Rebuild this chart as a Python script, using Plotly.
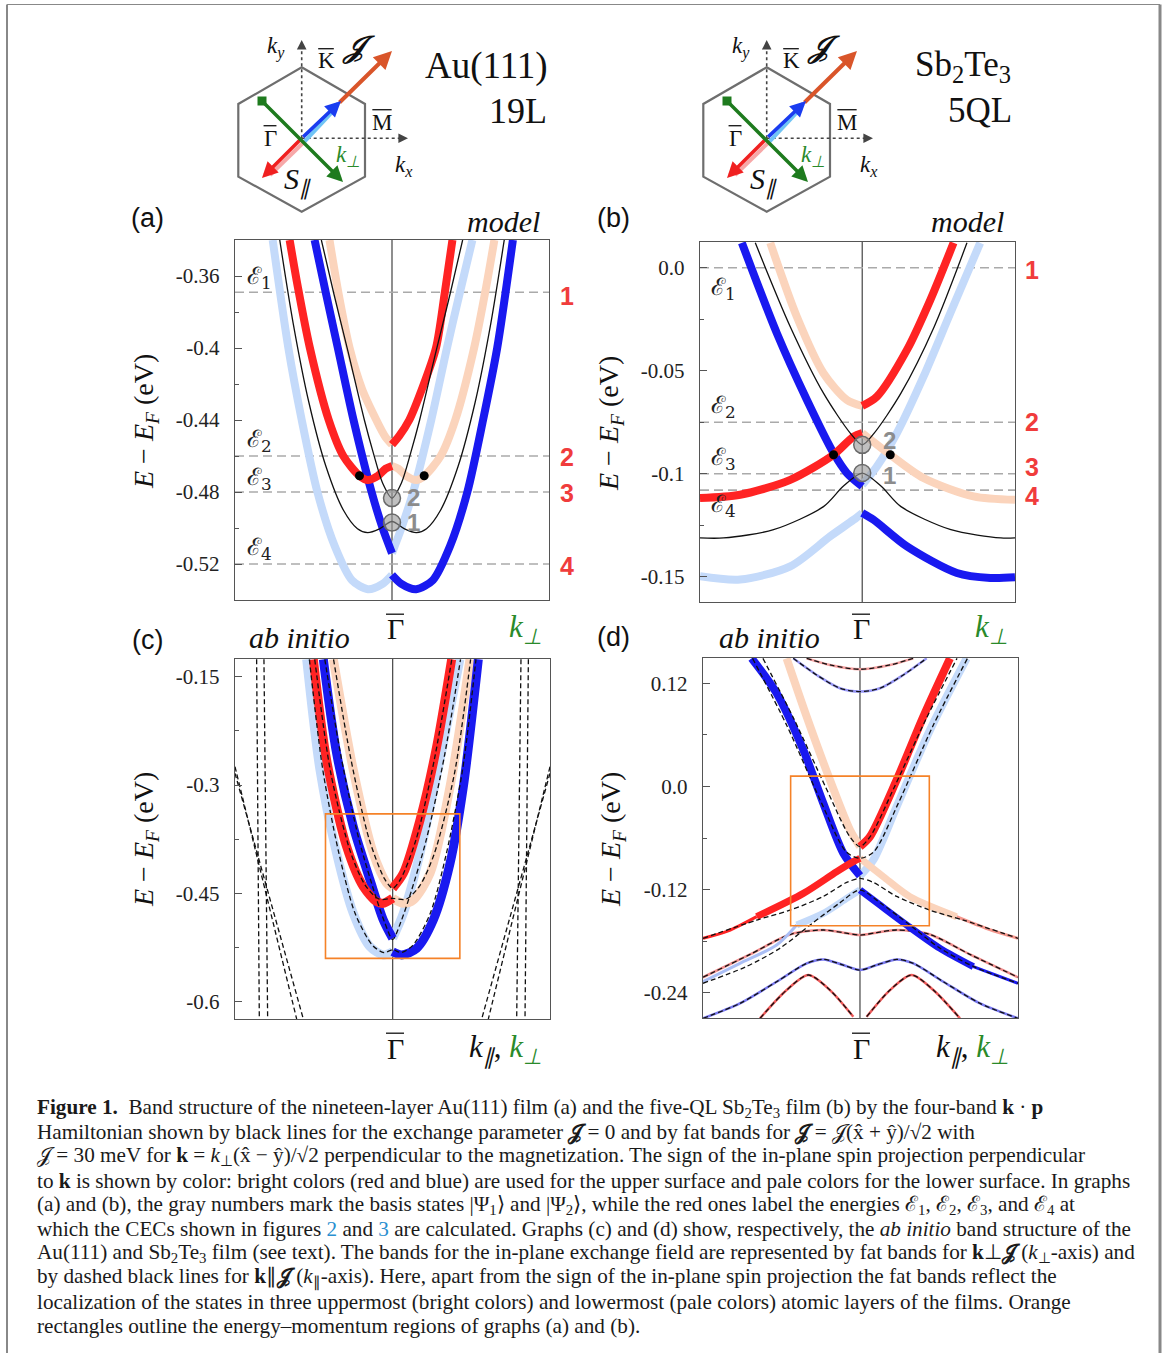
import plotly.graph_objects as go

W, H = 1165, 1353

# ---------------- colours ----------------
RED = "rgb(255,35,35)"
BLUE = "rgb(25,25,240)"
PALEBLUE = "rgb(196,218,250)"
PALEOR = "rgb(251,212,188)"
BLACK = "#111111"
FRAME = "#555555"
GREEN = "#2a8a2a"
ORANGE = "rgb(245,130,40)"

# ================= DATA =================
# ---- panel (a): Au(111) 19L, model ----
a_yticks = [-0.52, -0.48, -0.44, -0.40, -0.36]
a_yticktext = ["-0.52", "-0.48", "-0.44", "-0.4", "-0.36"]
a_yminor = [-0.54, -0.50, -0.46, -0.42, -0.38, -0.34]
a_levels = [-0.369, -0.460, -0.480, -0.520]

a_k_A_pale = [-0.76, -0.66, -0.575, -0.475, -0.365, -0.255, -0.154, -0.06, 0.0]
a_E_A_pale = [-0.340, -0.400, -0.440, -0.480, -0.510, -0.529, -0.534, -0.531, -0.526]
a_k_A_blue = [0.0, 0.06, 0.154, 0.26, 0.37, 0.48, 0.58, 0.67, 0.77]
a_E_A_blue = [-0.526, -0.531, -0.534, -0.529, -0.510, -0.480, -0.440, -0.400, -0.340]

a_k_B_blue = [-0.493, -0.42, -0.345, -0.245, -0.13, -0.06, 0.0]
a_E_B_blue = [-0.340, -0.370, -0.400, -0.440, -0.480, -0.500, -0.514]
a_k_B_pale = [0.0, 0.06, 0.135, 0.25, 0.35, 0.43, 0.512]
a_E_B_pale = [-0.514, -0.500, -0.480, -0.440, -0.400, -0.370, -0.340]

a_k_C_red = [-0.652, -0.60, -0.523, -0.403, -0.31, -0.207, -0.154, -0.09, -0.04, 0.0]
a_E_C_red = [-0.340, -0.366, -0.400, -0.440, -0.460, -0.471, -0.4733, -0.471, -0.467, -0.4655]
a_k_C_pale = [0.0, 0.04, 0.09, 0.154, 0.207, 0.31, 0.403, 0.523, 0.60, 0.652]
a_E_C_pale = [-0.4655, -0.467, -0.471, -0.4733, -0.471, -0.460, -0.440, -0.400, -0.366, -0.340]

a_k_D_pale = [-0.398, -0.34, -0.27, -0.19, -0.10, -0.045, 0.0]
a_E_D_pale = [-0.340, -0.370, -0.400, -0.423, -0.440, -0.449, -0.4537]
a_k_D_red = [0.0, 0.045, 0.11, 0.19, 0.28, 0.335, 0.385]
a_E_D_red = [-0.4537, -0.449, -0.440, -0.423, -0.400, -0.370, -0.340]

a_k_black_outer = [-0.715, -0.63, -0.53, -0.42, -0.31, -0.22, -0.155, -0.08, 0.0,
                   0.08, 0.155, 0.22, 0.31, 0.42, 0.53, 0.63, 0.715]
a_E_black_outer = [-0.340, -0.386, -0.430, -0.466, -0.490, -0.5004, -0.5026, -0.5005, -0.4964,
                   -0.5005, -0.5026, -0.5004, -0.490, -0.466, -0.430, -0.386, -0.340]
a_k_black_inner = [-0.45, -0.37, -0.28, -0.176, -0.12, -0.06, 0.0, 0.06, 0.12, 0.176, 0.28, 0.37, 0.45]
a_E_black_inner = [-0.340, -0.370, -0.402, -0.440, -0.458, -0.475, -0.4834,
                   -0.475, -0.458, -0.440, -0.402, -0.370, -0.340]
a_k_dots = [-0.207, 0.205]
a_E_dots = [-0.471, -0.471]
a_k_basis = [0.0, 0.0]
a_E_basis = [-0.4834, -0.497]

# ---- panel (b): Sb2Te3 5QL, model ----
b_yticks = [-0.15, -0.10, -0.05, 0.0]
b_yticktext = ["-0.15", "-0.1", "-0.05", "0.0"]
b_yminor = [-0.125, -0.075, -0.025]
b_levels = [0.0, -0.075, -0.100, -0.108]

b_k_up_blue = [-0.764, -0.542, -0.351, -0.182, -0.097, 0.0]
b_E_up_blue = [0.0121, -0.0318, -0.0642, -0.0900, -0.0997, -0.1062]
b_k_up_pale = [0.0, 0.093, 0.22, 0.389, 0.559, 0.749]
b_E_up_pale = [-0.1054, -0.0965, -0.0803, -0.0529, -0.0221, 0.0121]
b_k_top_pale = [-0.584, -0.415, -0.246, -0.097, 0.0]
b_E_top_pale = [0.0121, -0.0238, -0.0512, -0.0642, -0.0671]
b_k_top_red = [0.0, 0.093, 0.284, 0.432, 0.58]
b_E_top_red = [-0.0671, -0.0626, -0.0399, -0.0157, 0.0121]
b_k_mid_red = [-1.03, -0.775, -0.457, -0.182, -0.055, 0.0]
b_E_mid_red = [-0.1118, -0.1102, -0.1030, -0.0908, -0.0820, -0.0803]
b_k_mid_pale = [0.0, 0.178, 0.389, 0.707, 0.97]
b_E_mid_pale = [-0.0803, -0.0908, -0.1021, -0.1110, -0.1127]
b_k_low_pale = [-1.03, -0.775, -0.457, -0.203, -0.055, 0.0]
b_E_low_pale = [-0.1498, -0.1514, -0.1450, -0.1304, -0.1224, -0.1191]
b_k_low_blue = [0.0, 0.072, 0.284, 0.601, 0.813, 0.97]
b_E_low_blue = [-0.1191, -0.1224, -0.1353, -0.1482, -0.1506, -0.1503]
b_k_black_up = [-0.679, -0.457, -0.246, -0.076, 0.0, 0.076, 0.246, 0.457, 0.665]
b_E_black_up = [0.0121, -0.0286, -0.0609, -0.0803, -0.0860, -0.0803, -0.0609, -0.0286, 0.0121]
b_k_black_lo = [-1.03, -0.88, -0.563, -0.246, -0.119, 0.0, 0.119, 0.246, 0.563, 0.88, 0.97]
b_E_black_lo = [-0.1312, -0.1312, -0.1272, -0.1160, -0.1060, -0.0997,
                -0.1060, -0.1160, -0.1272, -0.1312, -0.1312]
b_k_dots = [-0.182, 0.178]
b_E_dots = [-0.0908, -0.0908]
b_k_basis = [0.0, 0.0]
b_E_basis = [-0.086, -0.0997]

# ---- panel (c): Au(111) ab initio ----
c_yticks = [-0.6, -0.45, -0.3, -0.15]
c_yticktext = ["-0.6", "-0.45", "-0.3", "-0.15"]
c_yminor = [-0.525, -0.375, -0.225]
c_region_k = [-1.0, 1.0]
c_region_E = [-0.54, -0.34]

c_k_pb1 = [-1.28, -1.082, -0.834, -0.586, -0.337, -0.139, 0.0]
c_E_pb1 = [-0.126, -0.279, -0.3946, -0.4776, -0.5238, -0.5353, -0.5307]
c_k_b1 = [0.0, 0.134, 0.357, 0.605, 0.854, 1.052, 1.275]
c_E_b1 = [-0.5307, -0.5353, -0.5261, -0.4869, -0.4084, -0.3023, -0.126]
c_k_b2 = [-1.032, -0.834, -0.586, -0.337, -0.139, 0.0]
c_E_b2 = [-0.126, -0.2561, -0.3577, -0.4315, -0.4869, -0.5123]
c_k_pb2 = [0.0, 0.159, 0.407, 0.705, 1.0]
c_E_pb2 = [-0.5123, -0.4776, -0.3946, -0.2654, -0.126]
c_k_r1 = [-1.181, -0.983, -0.685, -0.437, -0.238, -0.139, 0.0]
c_E_r1 = [-0.126, -0.2654, -0.3853, -0.4407, -0.4615, -0.4638, -0.4569]
c_k_po1 = [0.0, 0.159, 0.308, 0.556, 0.854, 1.151]
c_E_po1 = [-0.4569, -0.4638, -0.4592, -0.4223, -0.3023, -0.126]
c_k_po2 = [-0.883, -0.586, -0.288, -0.089, 0.0]
c_E_po2 = [-0.126, -0.2792, -0.3946, -0.4361, -0.443]
c_k_r2 = [0.0, 0.159, 0.407, 0.655, 0.878]
c_E_r2 = [-0.443, -0.4223, -0.3484, -0.2469, -0.126]

c_k_d1 = [-0.88, -0.62, -0.35, -0.12, 0.0, 0.12, 0.35, 0.62, 0.88]
c_E_d1 = [-0.126, -0.265, -0.375, -0.430, -0.443, -0.430, -0.375, -0.265, -0.126]
c_k_d2 = [-1.16, -0.92, -0.62, -0.40, -0.20, 0.0, 0.20, 0.40, 0.62, 0.92, 1.16]
c_E_d2 = [-0.126, -0.284, -0.395, -0.440, -0.458, -0.457, -0.458, -0.440, -0.395, -0.284, -0.126]
c_k_d3 = [-1.01, -0.77, -0.50, -0.25, -0.12, 0.0, 0.12, 0.25, 0.50, 0.77, 1.01]
c_E_d3 = [-0.126, -0.260, -0.376, -0.455, -0.490, -0.514, -0.490, -0.455, -0.376, -0.260, -0.126]
c_k_d4 = [-1.24, -1.04, -0.80, -0.56, -0.30, -0.13, 0.0, 0.13, 0.30, 0.56, 0.80, 1.04, 1.24]
c_E_d4 = [-0.126, -0.279, -0.3946, -0.4776, -0.522, -0.532, -0.528,
          -0.532, -0.522, -0.4776, -0.3946, -0.279, -0.126]
c_outer_k = [[-2.025, -1.985], [-1.916, -1.861], [-2.347, -1.429], [-2.347, -1.33],
             [2.02, 1.97], [1.91, 1.846], [2.342, 1.424], [2.342, 1.325]]
c_outer_E = [[-0.126, -0.624], [-0.126, -0.624], [-0.2746, -0.624], [-0.2838, -0.624],
             [-0.126, -0.624], [-0.126, -0.624], [-0.2746, -0.624], [-0.2838, -0.624]]

# ---- panel (d): Sb2Te3 ab initio ----
d_yticks = [-0.24, -0.12, 0.0, 0.12]
d_yticktext = ["-0.24", "-0.12", "0.0", "0.12"]
d_yminor = [-0.18, -0.06, 0.06]
d_region_k = [-1.0, 1.0]
d_region_E = [-0.162, 0.012]

d_k_up_blue = [-1.5625, -1.202, -0.817, -0.529, -0.240, 0.0]
d_E_up_blue = [0.149, 0.1084, 0.0424, -0.0196, -0.0778, -0.104]
d_k_up_paleblue = [0.0, 0.192, 0.529, 1.01, 1.538]
d_E_up_paleblue = [-0.104, -0.0856, -0.0235, 0.0657, 0.149]
d_k_up_paleor = [-1.058, -0.769, -0.433, -0.144, 0.0]
d_E_up_paleor = [0.149, 0.0812, 0.0075, -0.0507, -0.070]
d_k_up_red = [0.0, 0.144, 0.529, 0.913, 1.298]
d_E_up_red = [-0.070, -0.0584, 0.0075, 0.0812, 0.149]
d_k_lo_red = [-1.49, -0.817, -0.337, -0.096, 0.0]
d_E_lo_red = [-0.1515, -0.1244, -0.0992, -0.0875, -0.0836]
d_k_lo_red_thin = [-2.264, -1.9, -1.49]
d_E_lo_red_thin = [-0.1767, -0.168, -0.1515]
d_k_lo_paleor = [0.0, 0.337, 0.721, 1.394]
d_E_lo_paleor = [-0.0836, -0.105, -0.1283, -0.1515]
d_k_lo_paleor_thin = [1.394, 1.85, 2.279]
d_E_lo_paleor_thin = [-0.1515, -0.166, -0.1767]
d_k_lo_paleblue = [-0.913, -0.529, -0.192, 0.0]
d_E_lo_paleblue = [-0.1612, -0.1477, -0.1302, -0.1205]
d_k_lo_paleblue_thin = [-2.264, -1.731, -1.202, -0.913]
d_E_lo_paleblue_thin = [-0.2272, -0.2058, -0.1845, -0.1612]
d_k_lo_blue = [0.0, 0.288, 0.673, 1.154, 1.635]
d_E_lo_blue = [-0.1205, -0.138, -0.1612, -0.1884, -0.2097]
d_k_lo_blue_thin = [1.635, 2.279]
d_E_lo_blue_thin = [-0.2097, -0.229]

d_k_dd1 = [-1.40, -0.95, -0.50, -0.15, 0.0, 0.15, 0.50, 0.95, 1.40]
d_E_dd1 = [0.149, 0.078, 0.0, -0.058, -0.070, -0.058, 0.0, 0.078, 0.149]
d_k_dd2 = [-1.55, -1.05, -0.55, -0.20, 0.0, 0.20, 0.55, 1.05, 1.55]
d_E_dd2 = [0.149, 0.070, -0.020, -0.076, -0.0836, -0.076, -0.020, 0.070, 0.149]
d_k_dd3 = [-2.264, -1.49, -1.01, -0.529, -0.20, 0.0, 0.20, 0.529, 1.01, 1.49, 2.279]
d_E_dd3 = [-0.1767, -0.1555, -0.144, -0.128, -0.112, -0.107, -0.112, -0.128, -0.144, -0.1555, -0.1767]
d_k_dd4 = [-2.264, -1.65, -1.15, -0.70, -0.30, 0.0, 0.30, 0.70, 1.15, 1.65, 2.279]
d_E_dd4 = [-0.229, -0.210, -0.188, -0.160, -0.136, -0.1205, -0.136, -0.160, -0.188, -0.210, -0.229]
d_k_hump = [-2.264, -1.6, -1.0, -0.529, -0.24, 0.0, 0.24, 0.529, 1.0, 1.6, 2.279]
d_E_hump = [-0.222, -0.196, -0.172, -0.167, -0.1701, -0.1729, -0.1701, -0.167, -0.172, -0.196, -0.222]
d_k_w = [-2.264, -1.731, -1.202, -0.769, -0.529, -0.24, 0.0, 0.24, 0.529, 0.769, 1.202, 1.731, 2.279]
d_E_w = [-0.2698, -0.2524, -0.2272, -0.2058, -0.2012, -0.2078, -0.2136,
         -0.2078, -0.2012, -0.2058, -0.2272, -0.2524, -0.2698]
d_k_peakL = [-1.442, -1.058, -0.745, -0.433, -0.096]
d_E_peakL = [-0.2698, -0.2369, -0.2194, -0.2369, -0.2679]
d_k_peakR = [0.096, 0.433, 0.745, 1.058, 1.442]
d_E_peakR = [-0.2679, -0.2369, -0.2194, -0.2369, -0.2698]
d_k_cb1 = [-0.962, -0.625, -0.288, 0.0, 0.288, 0.625, 0.962]
d_E_cb1 = [0.149, 0.1297, 0.1142, 0.1103, 0.1142, 0.1297, 0.149]
d_k_cb2 = [-0.769, -0.433, 0.0, 0.433, 0.769]
d_E_cb2 = [0.149, 0.1413, 0.1363, 0.1413, 0.149]

# ================= FIGURE =================
def PX(x):
    return x / W


def PY(y):
    return 1 - y / H


fig = go.Figure()


def line(ax, k, E, color, width, dash=None):
    fig.add_trace(go.Scatter(
        x=k, y=E, xaxis="x" + ax, yaxis="y" + ax, mode="lines",
        line=dict(color=color, width=width, dash=dash, shape="spline", smoothing=0.8),
        hoverinfo="skip", showlegend=False))


def dashed(ax, k, E):
    line(ax, k, E, BLACK, 1.3, "5px,3px")


# ---- (a) ----
line("", a_k_A_pale, a_E_A_pale, PALEBLUE, 8)
line("", a_k_B_pale, a_E_B_pale, PALEBLUE, 8)
line("", a_k_C_pale, a_E_C_pale, PALEOR, 8)
line("", a_k_D_pale, a_E_D_pale, PALEOR, 8)
line("", a_k_A_blue, a_E_A_blue, BLUE, 8)
line("", a_k_B_blue, a_E_B_blue, BLUE, 8)
line("", a_k_C_red, a_E_C_red, RED, 8)
line("", a_k_D_red, a_E_D_red, RED, 8)
line("", a_k_black_outer, a_E_black_outer, BLACK, 1.3)
line("", a_k_black_inner, a_E_black_inner, BLACK, 1.3)

# ---- (b) ----
line("2", b_k_low_pale, b_E_low_pale, PALEBLUE, 8)
line("2", b_k_up_pale, b_E_up_pale, PALEBLUE, 8)
line("2", b_k_top_pale, b_E_top_pale, PALEOR, 8)
line("2", b_k_mid_pale, b_E_mid_pale, PALEOR, 8)
line("2", b_k_up_blue, b_E_up_blue, BLUE, 8)
line("2", b_k_low_blue, b_E_low_blue, BLUE, 8)
line("2", b_k_top_red, b_E_top_red, RED, 8)
line("2", b_k_mid_red, b_E_mid_red, RED, 8)
line("2", b_k_black_up, b_E_black_up, BLACK, 1.3)
line("2", b_k_black_lo, b_E_black_lo, BLACK, 1.3)

# ---- (c) ----
for kk, ee in zip(c_outer_k, c_outer_E):
    fig.add_trace(go.Scatter(x=kk, y=ee, xaxis="x3", yaxis="y3", mode="lines",
                             line=dict(color=BLACK, width=1.3, dash="5px,3px"),
                             hoverinfo="skip", showlegend=False))
line("3", c_k_pb1, c_E_pb1, PALEBLUE, 9)
line("3", c_k_pb2, c_E_pb2, PALEBLUE, 9)
line("3", c_k_po1, c_E_po1, PALEOR, 9)
line("3", c_k_po2, c_E_po2, PALEOR, 9)
line("3", c_k_b1, c_E_b1, BLUE, 9)
line("3", c_k_b2, c_E_b2, BLUE, 9)
line("3", c_k_r1, c_E_r1, RED, 9)
line("3", c_k_r2, c_E_r2, RED, 9)
for kk, ee in [(c_k_d1, c_E_d1), (c_k_d2, c_E_d2), (c_k_d3, c_E_d3), (c_k_d4, c_E_d4)]:
    dashed("3", kk, ee)

# ---- (d) ----
for kk, ee, cc in [(d_k_cb1, d_E_cb1, "rgb(150,150,245)"), (d_k_cb2, d_E_cb2, "rgb(245,160,160)"),
                   (d_k_hump, d_E_hump, "rgb(240,140,140)"), (d_k_w, d_E_w, "rgb(120,120,240)"),
                   (d_k_peakL, d_E_peakL, "rgb(240,90,90)"), (d_k_peakR, d_E_peakR, "rgb(240,90,90)")]:
    line("4", kk, ee, cc, 2.5)
    dashed("4", kk, ee)
line("4", d_k_lo_red_thin, d_E_lo_red_thin, RED, 3)
line("4", d_k_lo_paleor_thin, d_E_lo_paleor_thin, "rgb(245,150,140)", 3)
line("4", d_k_lo_paleblue_thin, d_E_lo_paleblue_thin, "rgb(170,190,245)", 3)
line("4", d_k_lo_blue_thin, d_E_lo_blue_thin, BLUE, 3)
line("4", d_k_up_paleblue, d_E_up_paleblue, PALEBLUE, 8)
line("4", d_k_up_paleor, d_E_up_paleor, PALEOR, 8)
line("4", d_k_lo_paleor, d_E_lo_paleor, PALEOR, 7)
line("4", d_k_lo_paleblue, d_E_lo_paleblue, PALEBLUE, 7)
line("4", d_k_up_blue, d_E_up_blue, BLUE, 8)
line("4", d_k_up_red, d_E_up_red, RED, 8)
line("4", d_k_lo_red, d_E_lo_red, RED, 7)
line("4", d_k_lo_blue, d_E_lo_blue, BLUE, 7)
for kk, ee in [(d_k_dd1, d_E_dd1), (d_k_dd2, d_E_dd2), (d_k_dd3, d_E_dd3), (d_k_dd4, d_E_dd4)]:
    dashed("4", kk, ee)

# markers: crossing dots and basis-state circles
for ax, kd, ed, kb, eb in [("", a_k_dots, a_E_dots, a_k_basis, a_E_basis),
                           ("2", b_k_dots, b_E_dots, b_k_basis, b_E_basis)]:
    fig.add_trace(go.Scatter(x=kb, y=eb, xaxis="x" + ax, yaxis="y" + ax, mode="markers",
                             marker=dict(size=17, color="rgba(150,150,150,0.6)",
                                         line=dict(color="#6a6a6a", width=1.5)),
                             hoverinfo="skip", showlegend=False))
    fig.add_trace(go.Scatter(x=kd, y=ed, xaxis="x" + ax, yaxis="y" + ax, mode="markers",
                             marker=dict(size=9, color="black"), hoverinfo="skip", showlegend=False))

# ---- axes ----
panels = [
    ("", (235, 549), (240, 600), [-1, 1], [-0.54, -0.34], a_yticks, a_yticktext, a_yminor),
    ("2", (700, 1015), (242, 602), [-1.03, 0.97], [-0.1623, 0.0125], b_yticks, b_yticktext, b_yminor),
    ("3", (235, 550), (659, 1019), [-2.347, 2.342], [-0.624, -0.1255], c_yticks, c_yticktext, c_yminor),
    ("4", (703, 1018), (658, 1018), [-2.264, 2.279], [-0.2694, 0.1494], d_yticks, d_yticktext, d_yminor),
]
shapes = []
for s, (x0, x1), (y0, y1), xr, yr, tv, tt, mv in panels:
    fig.layout["xaxis" + s] = dict(domain=[PX(x0), PX(x1)], range=xr, showline=True, mirror=True,
                                   linecolor=FRAME, linewidth=1.3, showticklabels=False, ticks="",
                                   showgrid=False, zeroline=False, anchor="y" + s, fixedrange=True)
    fig.layout["yaxis" + s] = dict(domain=[PY(y1), PY(y0)], range=yr, showline=True, mirror=True,
                                   linecolor=FRAME, linewidth=1.3, ticks="inside", ticklen=7,
                                   tickcolor=FRAME, tickvals=tv, ticktext=tt,
                                   tickfont=dict(family="Liberation Serif", size=21, color="#222"),
                                   ticklabelstandoff=10,
                                   minor=dict(ticks="inside", ticklen=4, tickcolor=FRAME, tickvals=mv),
                                   showgrid=False, zeroline=False, anchor="x" + s, fixedrange=True)
    shapes.append(dict(type="line", xref="x" + s, yref="y" + s + " domain", x0=0, x1=0, y0=0, y1=1,
                       line=dict(color="#444", width=1.2), layer="below"))

for lev in a_levels:
    shapes.append(dict(type="line", xref="x domain", yref="y", x0=0, x1=1, y0=lev, y1=lev,
                       line=dict(color="#aaaaaa", width=1.6, dash="9px,5px"), layer="below"))
for lev in b_levels:
    shapes.append(dict(type="line", xref="x2 domain", yref="y2", x0=0, x1=1, y0=lev, y1=lev,
                       line=dict(color="#aaaaaa", width=1.6, dash="9px,5px"), layer="below"))
shapes.append(dict(type="rect", xref="x3", yref="y3", x0=c_region_k[0], x1=c_region_k[1],
                   y0=c_region_E[0], y1=c_region_E[1], line=dict(color=ORANGE, width=1.6)))
shapes.append(dict(type="rect", xref="x4", yref="y4", x0=d_region_k[0], x1=d_region_k[1],
                   y0=d_region_E[0], y1=d_region_E[1], line=dict(color=ORANGE, width=1.6)))


def seg(x0, y0, x1, y1, color, width, dash=None):
    shapes.append(dict(type="line", xref="paper", yref="paper", x0=PX(x0), y0=PY(y0), x1=PX(x1), y1=PY(y1),
                       line=dict(color=color, width=width, dash=dash)))


# page frame
seg(7, 4.5, 7, 1353, "#888888", 2)
seg(7, 4.5, 1160, 4.5, "#888888", 1)
seg(1160, 4.5, 1160, 1353, "#888888", 3)


def arrow(x0, y0, x1, y1, color, width, size=1.0):
    fig.add_annotation(x=PX(x1), y=PY(y1), xref="paper", yref="paper", ax=x0 - x1, ay=y0 - y1,
                       axref="pixel", ayref="pixel", showarrow=True, arrowhead=2, arrowsize=size,
                       arrowwidth=width, arrowcolor=color, text="")


def txt(x, y, s, size, color="#111", family="Liberation Serif", xa="center", ya="middle", angle=0):
    fig.add_annotation(x=PX(x), y=PY(y), xref="paper", yref="paper", text=s, showarrow=False,
                       font=dict(size=size, color=color, family=family), xanchor=xa, yanchor=ya,
                       textangle=angle)


def bar_txt(x, y, s, size, half):
    """letter with an overline bar (drawn as a short line)."""
    txt(x, y, s, size)
    yb = y - 0.36 * size - 4
    seg(x - half * size, yb, x + half * size, yb, "#111", 1.3)


for dx in (0, 465):
    gx, gy = 301.7 + dx, 138.3
    hexpts = [(301.7, 67.3), (365, 104), (365, 176.7), (301.7, 211.7), (238.3, 176.7), (238.3, 104)]
    path = "M " + " L ".join(f"{PX(x + dx)},{PY(y)}" for x, y in hexpts) + " Z"
    shapes.append(dict(type="path", xref="paper", yref="paper", path=path,
                       line=dict(color="#6e6e6e", width=2.2)))
    seg(gx, gy, gx, 47, "#444", 1.6, "dot")
    arrow(gx, 50, gx, 40, "#444", 1.6, 1.2)
    seg(gx, gy, 400 + dx, gy, "#444", 1.6, "dot")
    arrow(398 + dx, gy, 408 + dx, gy, "#444", 1.6, 1.2)
    seg(gx + 3, gy + 3, 336 + dx, 108, "#70c4f5", 4)
    arrow(338 + dx, 104, 392 + dx, 51, "#d9552a", 4, 0.9)
    arrow(gx, gy, 341 + dx, 101, "#1a3cf0", 3.5, 0.9)
    seg(gx + 2, gy + 4, 270 + dx, 175, "#f7a8a8", 4)
    arrow(gx, gy, 262 + dx, 178, "#f02020", 3.5, 0.9)
    arrow(262 + dx, 101, 343 + dx, 182, "#1e7b1e", 3.5, 0.9)
    shapes.append(dict(type="rect", xref="paper", yref="paper", x0=PX(257.5 + dx), x1=PX(266.5 + dx),
                       y0=PY(105.5), y1=PY(96.5), fillcolor="#1e7b1e", line=dict(width=0)))
    txt(276 + dx, 47, "<i>k<sub>y</sub></i>", 23)
    bar_txt(326 + dx, 61, "K", 23, 0.34)
    txt(358 + dx, 47, "<b><i>\U0001D4A5</i></b>", 30)
    bar_txt(382 + dx, 122, "M", 23, 0.42)
    bar_txt(270 + dx, 138, "\u0393", 23, 0.28)
    txt(348 + dx, 156, "<i>k<sub>\u22a5</sub></i>", 23, GREEN)
    txt(298 + dx, 181, "<i>S<sub>\u2225</sub></i>", 30)
    txt(404 + dx, 166, "<i>k<sub>x</sub></i>", 23)

txt(486, 66, "Au(111)", 37)
txt(518, 111, "19L", 36)
txt(963, 66, "Sb<sub>2</sub>Te<sub>3</sub>", 35)
txt(980, 111, "5QL", 35)

# ---- panel annotations ----
for x, y, s in [(147, 218, "(a)"), (613, 218, "(b)"), (147, 640, "(c)"), (613, 637, "(d)")]:
    txt(x, y, s, 27, "#111", "Liberation Sans")
txt(503, 221, "<i>model</i>", 30)
txt(967, 221, "<i>model</i>", 30)
txt(299, 637, "<i>ab initio</i>", 30)
txt(769, 637, "<i>ab initio</i>", 30)
for x, y in [(395, 629), (861, 629), (395, 1048), (861, 1048)]:
    bar_txt(x, y, "\u0393", 30, 0.3)
txt(525, 629, "<i>k<sub>\u22a5</sub></i>", 31, GREEN)
txt(991, 629, "<i>k<sub>\u22a5</sub></i>", 31, GREEN)
txt(505, 1049, "<i>k<sub>\u2225</sub></i>, <span style='color:%s'><i>k<sub>\u22a5</sub></i></span>" % GREEN, 31)
txt(972, 1049, "<i>k<sub>\u2225</sub></i>, <span style='color:%s'><i>k<sub>\u22a5</sub></i></span>" % GREEN, 31)

ytitle = "<i>E</i> \u2212 <i>E<sub>F</sub></i> (eV)"
txt(145, 422, ytitle, 28, angle=-90)
txt(611, 424, ytitle, 28, angle=-90)
txt(145, 840, ytitle, 28, angle=-90)
txt(612, 840, ytitle, 28, angle=-90)

EFONT = "DejaVu Serif"
for x, y, i in [(259, 278, 1), (259, 440, 2), (259, 478, 3), (259, 548, 4),
                (723, 288, 1), (723, 407, 2), (723, 458, 3), (723, 505, 4)]:
    txt(x, y, "\u2130<sub>%d</sub>" % i, 24, "#222", EFONT)

RNUM = "rgb(240,60,60)"
for x, y, s in [(567, 296, "1"), (567, 457, "2"), (567, 493, "3"), (567, 566, "4"),
                (1032, 270, "1"), (1032, 422, "2"), (1032, 467, "3"), (1032, 496, "4")]:
    txt(x, y, "<b>%s</b>" % s, 25, RNUM, "Liberation Sans")
for x, y, s in [(413, 497, "2"), (413, 523, "1"), (889, 440, "2"), (889, 475, "1")]:
    txt(x, y, "<b>%s</b>" % s, 24, "#8c8c8c", "Liberation Sans")

# ---- caption ----
J = "\U0001D4A5"
cap = [
    "<b>Figure 1.</b>  Band structure of the nineteen-layer Au(111) film (a) and the five-QL Sb<sub>2</sub>Te<sub>3</sub> film (b) by the four-band <b>k</b> · <b>p</b>",
    "Hamiltonian shown by black lines for the exchange parameter <b>%s</b> = 0 and by fat bands for <b>%s</b> = %s(x\u0302 + y\u0302)/\u221a2 with" % (J, J, J),
    "%s = 30 meV for <b>k</b> = <i>k</i><sub>\u22a5</sub>(x\u0302 \u2212 y\u0302)/\u221a2 perpendicular to the magnetization. The sign of the in-plane spin projection perpendicular" % J,
    "to <b>k</b> is shown by color: bright colors (red and blue) are used for the upper surface and pale colors for the lower surface. In graphs",
    "(a) and (b), the gray numbers mark the basis states |\u03a8<sub>1</sub>\u27e9 and |\u03a8<sub>2</sub>\u27e9, while the red ones label the energies \u2130<sub>1</sub>, \u2130<sub>2</sub>, \u2130<sub>3</sub>, and \u2130<sub>4</sub> at",
    "which the CECs shown in figures <span style='color:#2a8fd0'>2</span> and <span style='color:#2a8fd0'>3</span> are calculated. Graphs (c) and (d) show, respectively, the <i>ab initio</i> band structure of the",
    "Au(111) and Sb<sub>2</sub>Te<sub>3</sub> film (see text). The bands for the in-plane exchange field are represented by fat bands for <b>k</b>\u22a5<b>%s</b> (<i>k</i><sub>\u22a5</sub>-axis) and" % J,
    "by dashed black lines for <b>k</b>\u2225<b>%s</b> (<i>k</i><sub>\u2225</sub>-axis). Here, apart from the sign of the in-plane spin projection the fat bands reflect the" % J,
    "localization of the states in three uppermost (bright colors) and lowermost (pale colors) atomic layers of the films. Orange",
    "rectangles outline the energy\u2013momentum regions of graphs (a) and (b).",
]
for i, s in enumerate(cap):
    txt(35, 1108 + i * 24.2, s, 21.2, "#1a1a1a", "Liberation Serif", xa="left")

fig.update_layout(width=W, height=H, margin=dict(l=0, r=0, t=0, b=0),
                  paper_bgcolor="white", plot_bgcolor="white", shapes=shapes, showlegend=False)

fig.write_html("out.html", config={"displayModeBar": False, "staticPlot": True},
               post_script="document.body.style.margin='0';document.body.style.overflow='hidden';")
